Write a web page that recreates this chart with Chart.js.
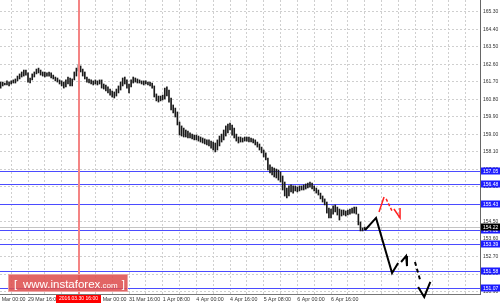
<!DOCTYPE html>
<html><head><meta charset="utf-8">
<script src="https://cdn.jsdelivr.net/npm/chart.js@4.4.1/dist/chart.umd.min.js"></script>
<style>html,body{margin:0;padding:0;background:#fff;}#wrap{width:500px;height:303px;position:relative;}</style>
</head><body><div id="wrap"><canvas id="c" width="500" height="303"></canvas></div>
<script>
// hourly bars, index 0 = 29 Mar 03:00
const highs = [161.69,161.69,161.64,161.75,161.69,161.75,161.80,161.85,162.00,162.11,
162.21,162.31,162.31,162.16,161.90,162.11,162.21,162.36,162.41,162.31,
162.21,162.21,162.16,162.21,162.16,162.05,161.95,161.90,161.80,161.75,
161.69,161.80,161.95,161.90,161.85,162.21,162.41,162.57,162.52,162.36,
162.21,161.95,161.85,161.80,161.75,161.80,161.75,161.80,161.80,161.59,
161.54,161.44,161.33,161.23,161.18,161.33,161.49,161.69,161.90,161.95,
161.80,161.59,161.80,161.95,161.90,161.85,161.80,161.75,161.75,161.75,
161.69,161.69,161.64,161.49,161.08,160.97,160.97,161.02,161.38,161.44,
161.28,160.87,160.51,160.35,160.15,159.63,159.43,159.32,159.22,159.17,
159.07,159.01,158.96,158.96,158.91,158.86,158.81,158.76,158.71,158.71,
158.65,158.60,158.55,158.71,158.91,159.01,159.22,159.43,159.53,159.58,
159.48,159.32,159.01,158.86,158.86,158.81,158.86,158.86,158.86,158.81,
158.76,158.71,158.60,158.50,158.34,158.19,158.04,157.78,157.42,157.31,
157.26,157.21,157.16,157.06,156.85,156.54,156.23,156.34,156.39,156.34,
156.34,156.28,156.34,156.34,156.39,156.44,156.49,156.54,156.49,156.34,
156.23,156.13,155.97,155.82,155.67,155.51,155.20,155.15,155.31,155.36,
155.25,155.15,155.10,155.10,155.05,155.10,155.15,155.20,155.25,155.25,
154.89,154.48,154.17,154.22];
const lows = [161.38,161.49,161.54,161.54,161.49,161.59,161.64,161.64,161.75,161.85,
161.95,162.00,162.05,161.69,161.64,161.80,161.95,162.11,162.16,162.05,
162.00,161.95,162.00,162.00,161.90,161.85,161.75,161.69,161.59,161.49,
161.38,161.44,161.59,161.49,161.49,161.80,162.00,162.26,162.21,162.00,
161.85,161.69,161.64,161.59,161.54,161.59,161.54,161.59,161.38,161.33,
161.23,161.13,161.02,160.92,160.87,160.97,161.13,161.28,161.49,161.59,
161.38,161.13,161.44,161.64,161.69,161.64,161.64,161.59,161.54,161.59,
161.54,161.49,161.38,160.92,160.72,160.66,160.72,160.77,160.82,160.97,
160.66,160.25,160.10,159.89,159.48,158.96,158.91,158.86,158.86,158.81,
158.81,158.76,158.71,158.71,158.65,158.60,158.55,158.50,158.45,158.40,
158.29,158.19,158.09,158.19,158.40,158.60,158.71,158.91,159.07,159.22,
158.96,158.81,158.65,158.55,158.60,158.60,158.65,158.65,158.60,158.60,
158.55,158.45,158.34,158.19,158.04,157.83,157.68,157.16,157.01,156.90,
156.80,156.75,156.64,156.54,156.13,155.82,155.72,155.82,156.03,155.97,
156.08,156.03,156.08,156.13,156.13,156.18,156.23,156.28,156.18,156.08,
155.97,155.87,155.67,155.51,155.36,154.94,154.69,154.69,154.89,155.00,
154.84,154.58,154.79,154.84,154.79,154.84,154.89,154.94,154.94,154.89,
154.33,154.02,154.02,154.07];

const timeLabels = ['29 Mar 00:00','29 Mar 16:00','30 Mar 08:00','31 Mar 00:00','31 Mar 16:00','1 Apr 08:00','4 Apr 00:00','4 Apr 16:00','5 Apr 08:00','6 Apr 00:00','6 Apr 16:00'];
const timeLabelBars = [-3,13,29,45,61,77,93,109,125,141,157];
const gridBars = [-3,5,13,21,29,37,45,53,61,69,77,85,93,101,109,117,125,133,141,149,157,165,173,181,189,197,205,213,221];
const priceTicks = [165.30,164.40,163.50,162.60,161.70,160.80,159.90,159.00,158.10,157.20,156.30,155.40,154.50,153.60,152.70,151.80,150.90];

const levelLines = [157.12,156.44,155.41,154.07,153.35,151.96,151.08];
const levelLabels = ['157.05','156.48','155.43','154.02','153.39','151.58','151.07'];
const currentPrice = 154.22;
const cursorBar = 37;
const cursorLabel = '2016.03.30 16:00';
const watermark = 'www.instaforex';

// forecast drawings (bar index, price)
const fcMain = [{x:173.2,y:154.07},{x:178.4,y:154.69},{x:186.0,y:151.85},{x:188.9,y:152.37}];
const fcSmall = [{x:190.3,y:152.42},{x:192.7,y:152.73},{x:193.1,y:152.21}];
const fcDash = [{x:196.9,y:152.42},{x:199.6,y:151.39}];
const fcV = [{x:198.4,y:151.13},{x:201.3,y:150.62},{x:204.2,y:151.39}];
const redUp = [{x:179.8,y:155.00},{x:182.2,y:155.77}];
const redDown = [{x:183.2,y:155.67},{x:186.0,y:155.05}];
const redArrow = [{x:186.9,y:155.15},{x:189.8,y:154.69},{x:189.8,y:155.20}];

Chart.defaults.font.family = '"Liberation Sans", Arial, sans-serif';
Chart.defaults.font.size = 5;
Chart.defaults.color = '#333';

const overlay = {
  id: 'overlay',
  beforeDatasetsDraw(chart) {
    const ctx = chart.ctx, a = chart.chartArea, ys = chart.scales.y;
    ctx.save();
    ctx.setLineDash([]);
    ctx.lineWidth = 1;
    let py = Math.round(ys.getPixelForValue(currentPrice)) + 0.5;
    ctx.strokeStyle = '#c4c4c4';
    ctx.beginPath(); ctx.moveTo(a.left, py); ctx.lineTo(a.right, py); ctx.stroke();
    ctx.strokeStyle = '#4b4bff';
    levelLines.forEach(v => {
      const p = Math.round(ys.getPixelForValue(v)) + 0.5;
      ctx.beginPath(); ctx.moveTo(a.left, p); ctx.lineTo(a.right, p); ctx.stroke();
    });
    ctx.restore();
  },
  afterDraw(chart) {
    const ctx = chart.ctx, a = chart.chartArea, xs = chart.scales.x, ys = chart.scales.y;
    ctx.save();
    ctx.setLineDash([]);
    // cursor vertical line
    const cxl = Math.round(xs.getPixelForValue(cursorBar));
    ctx.fillStyle = '#f48484';
    ctx.fillRect(cxl - 1, a.top, 2, a.bottom - a.top);
    ctx.font = '5px "Liberation Sans", Arial, sans-serif';
    ctx.textBaseline = 'middle';
    const boxW = chart.width - a.right - 1;
    const drawBox = (v, text, bg) => {
      const p = Math.round(ys.getPixelForValue(v));
      ctx.fillStyle = bg;
      ctx.fillRect(a.right + 1, p - 3.5, boxW, 7);
      ctx.fillStyle = '#fff';
      ctx.textAlign = 'left';
      ctx.fillText(text, a.right + 3, p + 0.5);
    };
    levelLines.forEach((v, k) => drawBox(v, levelLabels[k], '#1c1cff'));
    drawBox(currentPrice, currentPrice.toFixed(2), '#000');
    // cursor time box
    const cx = xs.getPixelForValue(cursorBar);
    const tw = ctx.measureText(cursorLabel).width + 6;
    ctx.fillStyle = '#ff0000';
    ctx.fillRect(Math.round(cx - tw / 2), a.bottom + 1, Math.round(tw), chart.height - a.bottom - 1);
    ctx.fillStyle = '#fff'; ctx.textAlign = 'center';
    ctx.fillText(cursorLabel, cx, a.bottom + 5);
    // watermark
    const wx = a.left + 8, wy = a.bottom - 20;
    ctx.fillStyle = 'rgba(222,80,80,0.88)';
    ctx.fillRect(wx, wy, 120, 18);
    ctx.strokeStyle = 'rgba(240,170,170,0.9)';
    ctx.lineWidth = 1;
    ctx.strokeRect(wx + 0.5, wy + 0.5, 119, 17);
    ctx.fillStyle = '#fff'; ctx.textAlign = 'left'; ctx.textBaseline = 'alphabetic';
    ctx.font = '11.5px "Liberation Sans", Arial, sans-serif';
    let tx = wx + 6;
    ctx.fillText('[', tx, wy + 14);
    tx += 9;
    ctx.fillText(watermark, tx, wy + 14);
    tx += ctx.measureText(watermark).width;
    ctx.font = '8px "Liberation Sans", Arial, sans-serif';
    ctx.fillText('.com', tx, wy + 14);
    tx += ctx.measureText('.com').width + 4;
    ctx.font = '11.5px "Liberation Sans", Arial, sans-serif';
    ctx.fillText(']', tx, wy + 14);
    ctx.restore();
  }
};

const lineDs = (data, color, width, dash) => ({
  type: 'line', data, borderColor: color, borderWidth: width, borderDash: dash || [],
  pointRadius: 0, tension: 0, clip: false, order: 0
});

new Chart(document.getElementById('c'), {
  type: 'bar',
  data: {
    datasets: [
      {
        type: 'bar',
        data: highs.map((h, i) => ({x: i, y: [lows[i], h]})),
        backgroundColor: '#1a1a1a',
        borderWidth: 0,
        barThickness: 1,
        grouped: false,
        order: 1
      },
      lineDs(fcMain, '#000', 2),
      lineDs(fcSmall, '#000', 2),
      lineDs(fcDash, '#000', 2, [4, 3]),
      lineDs(fcV, '#000', 2),
      lineDs(redUp, '#ff2020', 1.5),
      lineDs(redDown, '#ff2020', 1.5, [3, 2]),
      lineDs(redArrow, '#ff2020', 1.5)
    ]
  },
  options: {
    responsive: false,
    animation: false,
    devicePixelRatio: 1,
    layout: {padding: 0},
    plugins: {legend: {display: false}, tooltip: {enabled: false}},
    scales: {
      x: {
        type: 'linear', min: -0.31, max: 227.8, offset: false,
        grid: {color: '#cfcfcf', drawTicks: false, offset: false},
        border: {display: true, color: '#777', width: 1, dash: [2, 2]},
        afterBuildTicks: s => { s.ticks = gridBars.map(v => ({value: v})); },
        afterFit: s => { s.height = 9; s.paddingLeft = 0; s.paddingRight = 0; },
        ticks: {
          align: 'start', autoSkip: false, maxRotation: 0, padding: 2, color: '#333',
          font: {size: 5.3},
          callback: v => { const k = timeLabelBars.indexOf(v); return k >= 0 ? timeLabels[k] : ''; }
        }
      },
      y: {
        position: 'right', min: 150.771, max: 165.918,
        grid: {color: '#cfcfcf', drawTicks: false},
        border: {display: true, color: '#666', width: 1, dash: [2, 2]},
        afterBuildTicks: s => { s.ticks = priceTicks.map(v => ({value: v})); },
        afterFit: s => { s.width = 20; s.paddingTop = 0; s.paddingBottom = 0; },
        ticks: {padding: 3, color: '#333', font: {size: 5}, callback: v => v.toFixed(2)}
      }
    }
  },
  plugins: [overlay]
});
</script></body></html>
